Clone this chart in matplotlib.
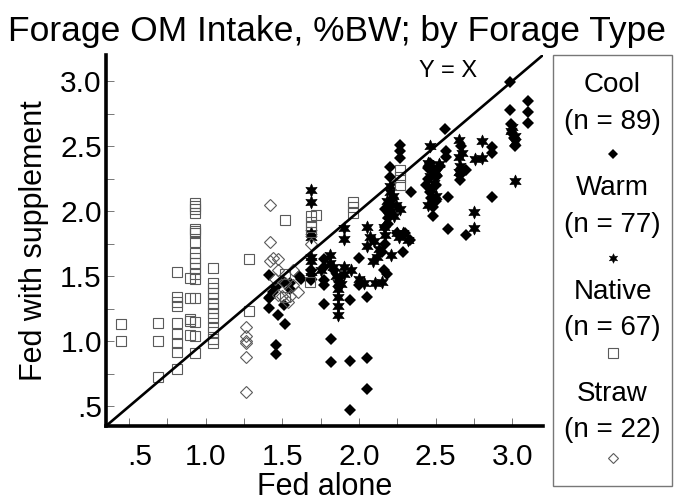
import matplotlib
matplotlib.use("Agg")
import matplotlib.pyplot as plt
from matplotlib.patches import Rectangle
from matplotlib.ticker import MultipleLocator, FixedLocator
import matplotlib.transforms as mtransforms

plt.rcParams['font.family'] = ['Liberation Sans', 'DejaVu Sans']

# Cool season forages (filled diamonds)
cool_x = [1.41, 1.41, 1.41, 1.46, 1.47, 1.46, 1.46, 1.51, 1.52, 1.51, 1.55, 1.61, 1.62, 1.44, 1.42,
          1.77, 1.77, 1.77, 1.77, 1.77, 1.82, 1.82, 1.84, 1.94, 1.94, 1.94, 2.00, 2.00, 2.05, 2.05, 2.05, 1.69, 1.69,
          2.16, 2.18, 2.29, 2.33, 2.34, 2.20, 2.20, 2.27, 2.27, 2.27, 2.17, 2.19, 2.17, 2.22, 2.25, 2.15, 2.19, 2.30,
          2.56, 2.57, 2.57, 2.58, 2.58, 2.48, 2.46, 2.49, 2.45, 2.50, 2.46, 2.50, 2.48, 2.45, 2.51, 2.47, 2.44,
          2.665, 2.70, 2.66, 2.87, 2.87, 2.87, 2.70, 2.66,
          2.985, 3.105, 3.105, 3.105, 2.985, 2.99, 3.01, 3.02, 3.00,
          2.17, 2.21, 2.53, 1.55]
cool_y = [1.51, 1.33, 1.26, 1.42, 1.20, 0.97, 0.90, 1.28, 1.13, 1.46, 1.45, 1.50, 1.48, 1.38, 1.34,
          1.63, 1.57, 1.47, 1.29, 1.43, 1.02, 0.84, 1.55, 1.32, 0.85, 0.47, 1.64, 1.43, 1.34, 0.87, 0.635, 1.47, 1.55,
          1.55, 1.52, 1.69, 1.78, 2.15, 2.34, 2.26, 2.51, 2.46, 2.41, 1.75, 1.95, 2.02, 2.10, 1.83, 1.69, 1.90, 1.83,
          2.63, 2.46, 2.42, 2.11, 1.86, 1.96, 2.37, 2.30, 2.25, 2.20, 2.15, 2.08, 2.03, 2.33, 2.27, 2.10, 2.20,
          2.50, 2.32, 2.24, 2.49, 2.45, 2.11, 1.82, 2.28,
          2.99, 2.85, 2.76, 2.68, 2.78, 2.67, 2.56, 2.50, 2.60,
          1.88, 2.05, 2.35, 1.40]

# Warm season forages (stars)
warm_x = [1.69, 1.69, 1.69, 1.69, 1.69, 1.69, 1.69, 1.69,
          1.81, 1.81, 1.83, 1.85, 1.865, 1.865, 1.865, 1.865, 1.865, 1.90, 1.90, 1.90, 1.90, 1.87, 1.88,
          2.05, 2.05, 2.10, 2.13, 2.09, 2.00, 2.105, 2.15, 2.03, 2.07, 2.12,
          2.21, 2.16, 2.17, 2.20, 2.22, 2.24, 2.21, 2.19, 2.25, 2.29, 2.32, 2.18, 2.23, 2.26, 2.20,
          2.46, 2.45, 2.48, 2.50, 2.46, 2.49, 2.47, 2.50, 2.45, 2.52,
          2.65, 2.65, 2.66, 2.65, 2.755, 2.80, 2.80, 2.75, 2.75, 2.67,
          3.00, 3.02, 3.02, 3.02, 2.99,
          1.75, 1.95, 2.27]
warm_y = [2.16, 2.07, 1.83, 1.65, 1.62, 1.53, 1.50, 1.80,
          1.66, 1.60, 1.57, 1.50, 1.45, 1.40, 1.34, 1.27, 1.20, 1.87, 1.79, 1.57, 1.52, 1.48, 1.44,
          1.88, 1.73, 1.77, 1.71, 1.62, 1.48, 1.45, 1.46, 1.45, 1.80, 1.65,
          1.66, 1.88, 1.82, 2.15, 2.12, 2.05, 2.00, 1.97, 1.83, 1.83, 1.78, 2.08, 1.96, 1.80, 2.19,
          2.50, 2.37, 2.33, 2.30, 2.27, 2.22, 2.17, 2.12, 2.05, 2.36,
          2.55, 2.42, 2.35, 2.30, 2.40, 2.41, 2.54, 1.995, 1.87, 2.45,
          2.65, 2.58, 2.53, 2.23, 2.62,
          1.55, 1.55, 2.02]

# Native forages (open squares)
native_x = [0.45, 0.45,
            0.69, 0.69, 0.69,
            0.81, 0.81, 0.81, 0.81, 0.81, 0.81, 0.81, 0.81,
            0.90, 0.90, 0.90, 0.90,
            0.93, 0.93, 0.93, 0.93, 0.93, 0.93, 0.93, 0.93, 0.93, 0.93, 0.93, 0.93, 0.93, 0.93, 0.93, 0.93,
            1.045, 1.045, 1.045, 1.045, 1.045, 1.045, 1.045, 1.045, 1.045, 1.045, 1.045,
            1.28, 1.28,
            1.52, 1.52, 1.52,
            1.68,
            1.69, 1.69, 1.69, 1.69,
            1.72,
            1.96, 1.96, 1.96,
            2.27, 2.27, 2.27,
            0.93, 0.93, 0.81, 1.045, 1.045, 0.90]
native_y = [1.13, 1.00,
            1.14, 1.00, 0.73,
            1.53, 1.34, 1.27, 1.14, 1.06, 0.99, 0.92, 0.79,
            1.49, 1.33, 1.16, 1.05,
            2.06, 2.02, 1.99, 1.86, 1.83, 1.76, 1.68, 1.64, 1.60, 1.56, 1.52, 1.48, 1.33, 1.15, 1.04, 0.91,
            1.56, 1.45, 1.41, 1.37, 1.33, 1.29, 1.26, 1.22, 1.11, 1.07, 0.99,
            1.63, 1.23,
            1.93, 1.52, 1.34,
            1.46,
            1.96, 1.92, 1.88, 1.84,
            1.97,
            2.07, 2.03, 1.99,
            2.32, 2.26, 2.20,
            1.85, 2.04, 1.30, 1.18, 1.02, 1.17]

# Straw (open diamonds)
straw_x = [1.26, 1.26, 1.26, 1.26, 1.26,
           1.42, 1.42, 1.42,
           1.47, 1.47, 1.47,
           1.57, 1.57, 1.54, 1.50,
           1.69,
           1.26, 1.45, 1.52, 1.60, 1.44, 1.55]
straw_y = [1.11, 1.04, 0.99, 0.88, 0.61,
           2.05, 1.76, 1.62,
           1.63, 1.55, 1.36,
           1.55, 1.43, 1.30, 1.35,
           1.75,
           1.00, 1.48, 1.45, 1.38, 1.64, 1.35]

groups = ['Cool', 'Warm', 'Native', 'Straw']
counts = [89, 77, 67, 22]
ticks = [0.5, 1.0, 1.5, 2.0, 2.5, 3.0]
tick_labels = ['.5', '1.0', '1.5', '2.0', '2.5', '3.0']
lims = (0.35, 3.2)

fig = plt.figure(figsize=(6.74, 5.01), dpi=100)
ax = fig.add_axes([106 / 674, 75 / 501, 437 / 674, 371 / 501])

star = (6, 1, 0)
ax.plot(cool_x, cool_y, 'D', color='black', ms=6.3, mew=0, zorder=3)
ax.plot(warm_x, warm_y, linestyle='none', marker=star, color='black', ms=9.5, mew=0.4, zorder=3)
ax.plot(native_x, native_y, 's', mfc='none', mec='#5a5a5a', ms=7.8, mew=0.8, zorder=4)
ax.plot(straw_x, straw_y, 'D', mfc='none', mec='#5a5a5a', ms=5.8, mew=0.8, zorder=4)

ax.plot(lims, lims, color='black', lw=1.9, zorder=5, solid_capstyle='butt')
ax.text(2.58, 3.08, 'Y = X', fontsize=17, ha='center', va='center')

ax.set_xlim(lims)
ax.set_ylim(lims)
for side in ['top', 'right']:
    ax.spines[side].set_visible(False)
for side in ['left', 'bottom']:
    ax.spines[side].set_linewidth(2.6)
ax.xaxis.set_major_locator(FixedLocator(ticks))
ax.yaxis.set_major_locator(FixedLocator(ticks))
ax.xaxis.set_minor_locator(MultipleLocator(0.25))
ax.yaxis.set_minor_locator(MultipleLocator(0.25))
ax.set_xticklabels(tick_labels)
ax.set_yticklabels(tick_labels)
ax.tick_params(which='both', direction='in', length=6, width=0.7, color='#777777', labelsize=21.5)
ax.tick_params(axis='x', pad=12)
ax.tick_params(axis='y', pad=3)
off = mtransforms.ScaledTranslation(8 / 72, 0, fig.dpi_scale_trans)
first = ax.get_xticklabels()[0]
first.set_transform(first.get_transform() + off)

ax.set_xlabel('Fed alone', fontsize=22, labelpad=1)
ax.set_ylabel('Fed with supplement', fontsize=22, labelpad=8)
fig.text(0.5, 1 - 31 / 501, 'Forage OM Intake, %BW; by Forage Type', fontsize=25.5,
         ha='center', va='center')

# legend box drawn by hand, y in pixel rows from the top of the figure
box_top, box_bottom = 55, 486
lax = fig.add_axes([553 / 674, (501 - box_bottom) / 501, 119 / 674, (box_bottom - box_top) / 501])
lax.set_xlim(0, 1)
lax.set_ylim(box_bottom, box_top)
lax.axis('off')
lax.add_patch(Rectangle((0, box_top), 1, box_bottom - box_top, fill=False,
                        ec='#777777', lw=1.0, clip_on=False))
name_rows = [85, 188, 292, 394]
n_rows = [122, 225, 328, 430]
mark_rows = [154, 258, 353, 458]
mark_styles = [dict(marker='D', color='black', ms=5, mew=0),
               dict(marker=star, color='black', ms=7, mew=0.3),
               dict(marker='s', mfc='none', mec='#5a5a5a', ms=6.5, mew=0.8),
               dict(marker='D', mfc='none', mec='#5a5a5a', ms=5, mew=0.8)]
for g, c, r1, r2, r3, st in zip(groups, counts, name_rows, n_rows, mark_rows, mark_styles):
    lax.text(0.5, r1, g, fontsize=20, ha='center', va='center')
    lax.text(0.5, r2, '(n = %d)' % c, fontsize=20, ha='center', va='center')
    lax.plot([0.5], [r3], linestyle='none', **st)

fig.savefig('out.png', dpi=100)
